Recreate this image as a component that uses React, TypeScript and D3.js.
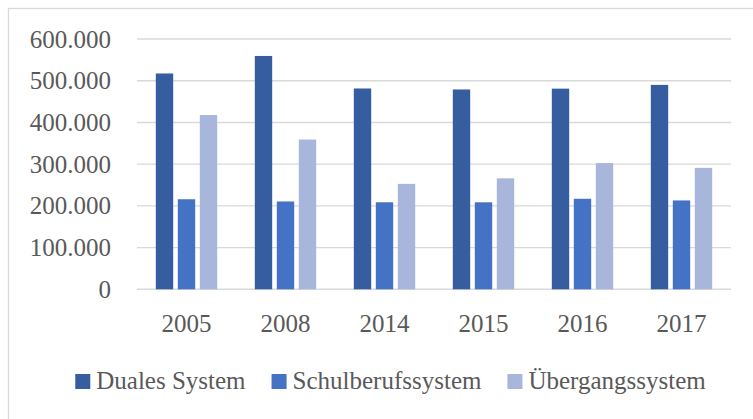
import React from "react";
import * as d3 from "d3";

// chart values
const years = ["2005", "2008", "2014", "2015", "2016", "2017"];
const seriesNames = ["Duales System", "Schulberufssystem", "Übergangssystem"];
const duales = [517342, 559324, 481391, 479000, 481000, 490000];
const schulberuf = [215874, 210552, 208606, 208500, 217000, 213000];
const uebergang = [417649, 358969, 252670, 266000, 302500, 291000];
const yTicks = [0, 100000, 200000, 300000, 400000, 500000, 600000];
const colors = ["#355DA0", "#4472C4", "#A8B6DB"];

const W = 753;
const H = 419;
const left = 137;
const right = 731;
const top = 39;
const bottom = 289.3;
const textColor = "#595959";
const fontStyle = { fontFamily: '"Liberation Serif"', fontSize: 25 };

// rough text width for legend layout, measured with a canvas
function textWidth(s: string) {
  const c = document.createElement("canvas").getContext("2d");
  if (!c) return s.length * 11;
  c.font = '25px "Liberation Serif"';
  return c.measureText(s).width;
}

export default function App() {
  const y = d3.scaleLinear().domain([0, 600000]).range([bottom, top]);
  const x0 = d3
    .scaleBand<string>()
    .domain(years)
    .range([left, right])
    .paddingInner(1 / 3)
    .paddingOuter(1 / 6);
  const x1 = d3
    .scaleBand<number>()
    .domain([0, 1, 2])
    .range([0, x0.bandwidth()])
    .paddingInner(0.21)
    .paddingOuter(0.105);

  const fmt = (v: number) =>
    v === 0 ? "0" : d3.format(",")(v).replace(/,/g, ".");

  const data = [duales, schulberuf, uebergang];

  // legend layout, centred
  const widths = seriesNames.map(textWidth);
  const offsets: number[] = [];
  let cx = 0;
  widths.forEach((w) => {
    offsets.push(cx);
    cx += 21 + w + 26;
  });
  const legendX = 390.5 - (cx - 26) / 2;

  return (
    <svg
      width={W}
      height={H}
      style={{ position: "absolute", left: 0, top: 0, background: "#fff" }}
    >
      {/* outer chart border, cropped at right and bottom */}
      <rect
        x={8.5}
        y={8.5}
        width={780}
        height={440}
        fill="#fff"
        stroke="#d9d9d9"
        strokeWidth={1.3}
      />

      {yTicks.map((t) => (
        <g key={t}>
          <line
            x1={left}
            x2={right}
            y1={y(t)}
            y2={y(t)}
            stroke="#d9d9d9"
            strokeWidth={1.4}
          />
          <text
            x={111}
            y={y(t)}
            dy="0.34em"
            textAnchor="end"
            fill={textColor}
            style={fontStyle}
          >
            {fmt(t)}
          </text>
        </g>
      ))}

      {years.map((yr, i) => (
        <g key={yr} transform={`translate(${x0(yr)},0)`}>
          {data.map((s, k) => (
            <rect
              key={k}
              x={x1(k)}
              width={x1.bandwidth()}
              y={y(s[i])}
              height={bottom - y(s[i])}
              fill={colors[k]}
            />
          ))}
          <text
            x={x0.bandwidth() / 2}
            y={332}
            textAnchor="middle"
            fill={textColor}
            style={fontStyle}
          >
            {yr}
          </text>
        </g>
      ))}

      <g transform={`translate(${legendX},389)`}>
        {seriesNames.map((name, i) => (
          <g key={name} transform={`translate(${offsets[i]},0)`}>
            <rect x={0} y={-15} width={15} height={15} fill={colors[i]} />
            <text x={21} y={0} fill={textColor} style={fontStyle}>
              {name}
            </text>
          </g>
        ))}
      </g>
    </svg>
  );
}
